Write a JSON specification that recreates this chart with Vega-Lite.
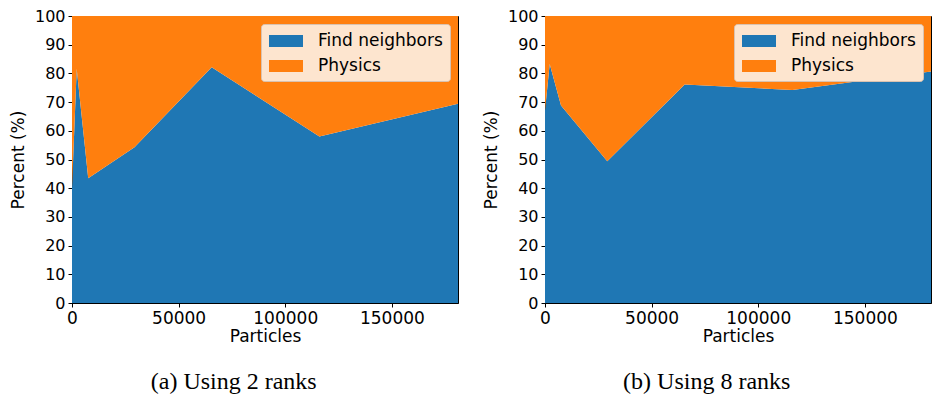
{
  "$schema": "https://vega.github.io/schema/vega-lite/v6.json",
  "background": "white",
  "padding": {"left": 8, "top": 7, "right": 1, "bottom": 2},
  "spacing": 22,
  "config": {
    "font": "DejaVu Sans",
    "view": {"stroke": "black", "strokeWidth": 1},
    "axis": {"labelFontSize": 17, "titleFontSize": 17, "labelColor": "black", "titleColor": "black", "titleFontWeight": "normal", "domainColor": "black", "tickColor": "black", "tickSize": 4, "grid": false, "labelFont": "DejaVu Sans", "titleFont": "DejaVu Sans", "labelPadding": 3},
    "axisY": {"labelFontSize": 16},
    "legend": {"orient": "top-right", "offset": 8, "fillColor": "#fde5cf", "strokeColor": "#d9c2b0", "cornerRadius": 3, "padding": 7, "labelFontSize": 17, "labelFont": "DejaVu Sans", "labelColor": "black", "symbolType": "M-1.7,-0.6H1.7V0.6H-1.7Z", "symbolSize": 400, "symbolStrokeWidth": 0, "symbolOpacity": 1, "rowPadding": 7, "symbolOffset": 8, "labelOffset": 22},
    "title": {"font": "Liberation Serif", "fontSize": 24, "fontWeight": "normal", "color": "black", "orient": "bottom", "anchor": "middle", "frame": "bounds", "offset": 26}
  },
  "datasets": {
    "r2": [
      {"particles": 0, "phase": "Find neighbors", "percent": 40.0},
      {"particles": 2200, "phase": "Find neighbors", "percent": 81.6},
      {"particles": 7600, "phase": "Find neighbors", "percent": 43.5},
      {"particles": 29300, "phase": "Find neighbors", "percent": 54.3},
      {"particles": 65500, "phase": "Find neighbors", "percent": 82.1},
      {"particles": 116000, "phase": "Find neighbors", "percent": 58.0},
      {"particles": 181000, "phase": "Find neighbors", "percent": 69.4},
      {"particles": 0, "phase": "Physics", "percent": 60.0},
      {"particles": 2200, "phase": "Physics", "percent": 18.4},
      {"particles": 7600, "phase": "Physics", "percent": 56.5},
      {"particles": 29300, "phase": "Physics", "percent": 45.7},
      {"particles": 65500, "phase": "Physics", "percent": 17.9},
      {"particles": 116000, "phase": "Physics", "percent": 42.0},
      {"particles": 181000, "phase": "Physics", "percent": 30.6}
    ],
    "r8": [
      {"particles": 0, "phase": "Find neighbors", "percent": 67.0},
      {"particles": 2200, "phase": "Find neighbors", "percent": 83.3},
      {"particles": 7500, "phase": "Find neighbors", "percent": 68.8},
      {"particles": 29200, "phase": "Find neighbors", "percent": 49.4},
      {"particles": 65500, "phase": "Find neighbors", "percent": 76.1},
      {"particles": 116000, "phase": "Find neighbors", "percent": 74.2},
      {"particles": 181000, "phase": "Find neighbors", "percent": 80.7},
      {"particles": 0, "phase": "Physics", "percent": 33.0},
      {"particles": 2200, "phase": "Physics", "percent": 16.7},
      {"particles": 7500, "phase": "Physics", "percent": 31.2},
      {"particles": 29200, "phase": "Physics", "percent": 50.6},
      {"particles": 65500, "phase": "Physics", "percent": 23.9},
      {"particles": 116000, "phase": "Physics", "percent": 25.8},
      {"particles": 181000, "phase": "Physics", "percent": 19.3}
    ]
  },
  "resolve": {"scale": {"color": "independent"}, "legend": {"color": "independent"}},
  "hconcat": [
    {
      "width": 386, "height": 287,
      "data": {"name": "r2"},
      "title": {"text": "(a) Using 2 ranks"},
      "mark": {"type": "area", "interpolate": "linear"},
      "encoding": {
        "x": {"field": "particles", "type": "quantitative", "scale": {"domain": [0, 181000], "nice": false, "zero": true}, "axis": {"values": [0, 50000, 100000, 150000], "format": "d", "title": "Particles", "labelFlush": false, "titlePadding": 2}},
        "y": {"field": "percent", "type": "quantitative", "stack": "zero", "scale": {"domain": [0, 100], "nice": false}, "axis": {"values": [0, 10, 20, 30, 40, 50, 60, 70, 80, 90, 100], "title": "Percent (%)", "titlePadding": 7}},
        "color": {"field": "phase", "type": "nominal", "scale": {"domain": ["Find neighbors", "Physics"], "range": ["#1f77b4", "#ff7f0e"]}, "legend": {"title": null}},
        "order": {"field": "phase", "sort": "ascending"}
      }
    },
    {
      "width": 386, "height": 287,
      "data": {"name": "r8"},
      "title": {"text": "(b) Using 8 ranks"},
      "mark": {"type": "area", "interpolate": "linear"},
      "encoding": {
        "x": {"field": "particles", "type": "quantitative", "scale": {"domain": [0, 181000], "nice": false, "zero": true}, "axis": {"values": [0, 50000, 100000, 150000], "format": "d", "title": "Particles", "labelFlush": false, "titlePadding": 2}},
        "y": {"field": "percent", "type": "quantitative", "stack": "zero", "scale": {"domain": [0, 100], "nice": false}, "axis": {"values": [0, 10, 20, 30, 40, 50, 60, 70, 80, 90, 100], "title": "Percent (%)", "titlePadding": 7}},
        "color": {"field": "phase", "type": "nominal", "scale": {"domain": ["Find neighbors", "Physics"], "range": ["#1f77b4", "#ff7f0e"]}, "legend": {"title": null}},
        "order": {"field": "phase", "sort": "ascending"}
      }
    }
  ]
}
